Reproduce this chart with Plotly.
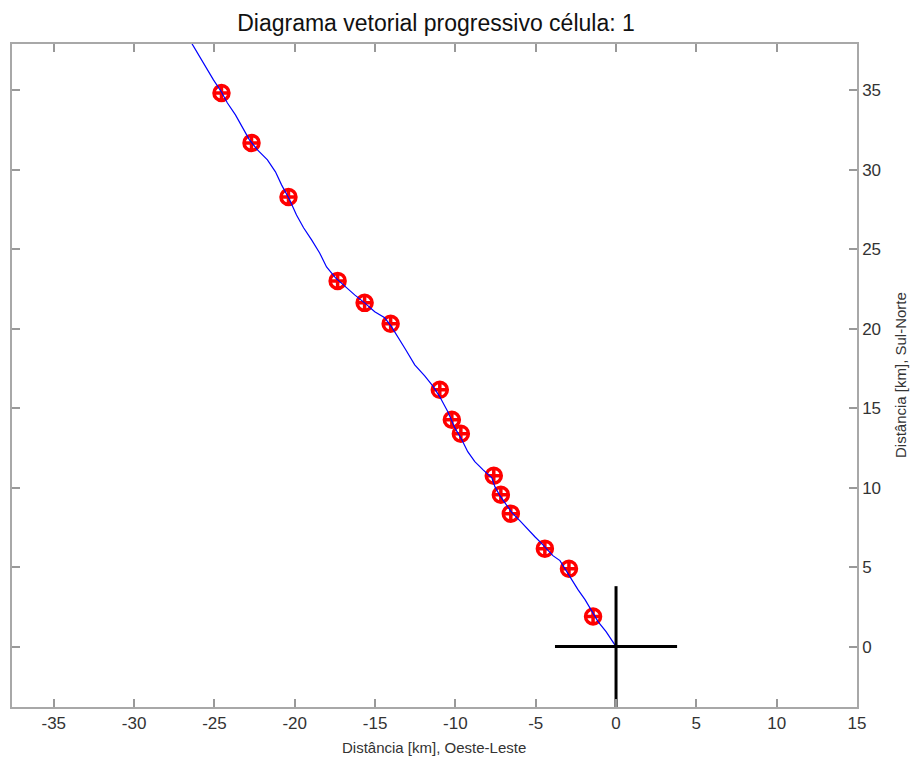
import plotly.graph_objects as go

# Red position markers (km)
mark_x = [-24.56, -22.69, -20.39, -17.33, -15.65, -14.03, -10.97, -10.22, -9.66,
          -7.61, -7.17, -6.55, -4.43, -2.93, -1.43]
mark_y = [34.82, 31.68, 28.28, 23.00, 21.62, 20.30, 16.15, 14.27, 13.39,
          10.75, 9.55, 8.36, 6.16, 4.90, 1.89]

# Blue progressive track (km)
track_x = [0.0, -0.62, -1.12, -1.50, -1.93, -2.37, -2.87, -3.18, -3.49, -3.93, -4.30,
           -4.68, -5.05, -5.55, -5.99, -6.48, -6.86, -7.23, -7.54, -7.73, -8.29, -8.79,
           -9.23, -9.60, -10.04, -10.47, -10.97, -11.41, -11.91, -12.53, -13.09, -13.47,
           -13.97, -14.40, -15.02, -15.65, -16.27, -16.90, -17.46, -18.02, -18.45, -18.95,
           -19.45, -19.89, -20.32, -20.82, -21.20, -21.70, -22.32, -22.82, -23.32, -23.69,
           -24.19, -24.56, -25.06, -25.50, -25.94, -26.37, -26.68]
track_y = [0.0, 0.94, 1.57, 2.20, 2.95, 3.58, 4.40, 4.97, 5.41, 5.72, 6.16,
           6.54, 6.91, 7.48, 7.92, 8.42, 8.93, 9.49, 10.06, 10.62, 11.13, 11.63,
           12.26, 13.01, 13.77, 14.77, 15.71, 16.40, 17.03, 17.72, 18.67, 19.30,
           20.11, 20.68, 21.06, 21.62, 22.12, 22.69, 23.19, 23.88, 24.76, 25.58,
           26.34, 27.15, 28.10, 29.04, 29.86, 30.61, 31.24, 31.87, 32.75, 33.44,
           34.19, 34.88, 35.64, 36.39, 37.08, 37.90, 38.40]

# Origin cross (km)
cross_h_x = [-3.8, 3.8]
cross_h_y = [0, 0]
cross_v_x = [0, 0]
cross_v_y = [3.8, -4.5]

x_ticks = [-35, -30, -25, -20, -15, -10, -5, 0, 5, 10, 15]
y_ticks = [0, 5, 10, 15, 20, 25, 30, 35]
x_range = [-37.6, 15]
y_range = [-3.8, 37.9]

FONT = "Liberation Sans, Arial"

fig = go.Figure()
fig.add_trace(go.Scatter(x=mark_x, y=mark_y, mode="markers",
                         marker=dict(symbol="circle-cross-open", size=15, color="#ff0000",
                                     line=dict(width=3.5, color="#ff0000")),
                         showlegend=False, hoverinfo="skip"))
fig.add_trace(go.Scatter(x=track_x, y=track_y, mode="lines",
                         line=dict(color="#0000ff", width=1.2),
                         showlegend=False, hoverinfo="skip"))
fig.add_trace(go.Scatter(x=cross_h_x, y=cross_h_y, mode="lines",
                         line=dict(color="black", width=3), showlegend=False, hoverinfo="skip"))
fig.add_trace(go.Scatter(x=cross_v_x, y=cross_v_y, mode="lines",
                         line=dict(color="black", width=3), showlegend=False, hoverinfo="skip"))

axis_common = dict(showgrid=False, zeroline=False, showline=True, linecolor="#a8a8a8",
                   linewidth=1.5, mirror="allticks", ticks="inside", ticklen=8,
                   tickcolor="#999999", tickwidth=1.5, automargin=False,
                   tickfont=dict(family=FONT, size=17, color="#333333"))

fig.update_layout(
    width=911, height=757,
    margin=dict(l=12, r=54, t=44, b=50),
    paper_bgcolor="white", plot_bgcolor="white",
    title=dict(text="Diagrama vetorial progressivo célula: 1", x=436 / 911, xanchor="center",
               y=1 - 23 / 757, yanchor="middle",
               font=dict(family=FONT, size=23, color="#111111")),
    xaxis=dict(range=x_range, tickvals=x_ticks, ticktext=[str(v) for v in x_ticks],
               **axis_common),
    yaxis=dict(range=y_range, tickvals=y_ticks, ticktext=[str(v) for v in y_ticks],
               side="right", **axis_common),
    annotations=[
        dict(text="Distância [km], Oeste-Leste", xref="paper", yref="paper",
             x=(434 - 12) / 845, y=(707 - 747) / 663, xanchor="center", yanchor="middle",
             showarrow=False, font=dict(family=FONT, size=15, color="#333333")),
        dict(text="Distância [km], Sul-Norte", xref="paper", yref="paper",
             x=(900 - 12) / 845, y=(707 - 375) / 663, xanchor="center", yanchor="middle",
             textangle=-90, showarrow=False,
             font=dict(family=FONT, size=15, color="#333333")),
    ],
)

fig.write_html("out.html")
